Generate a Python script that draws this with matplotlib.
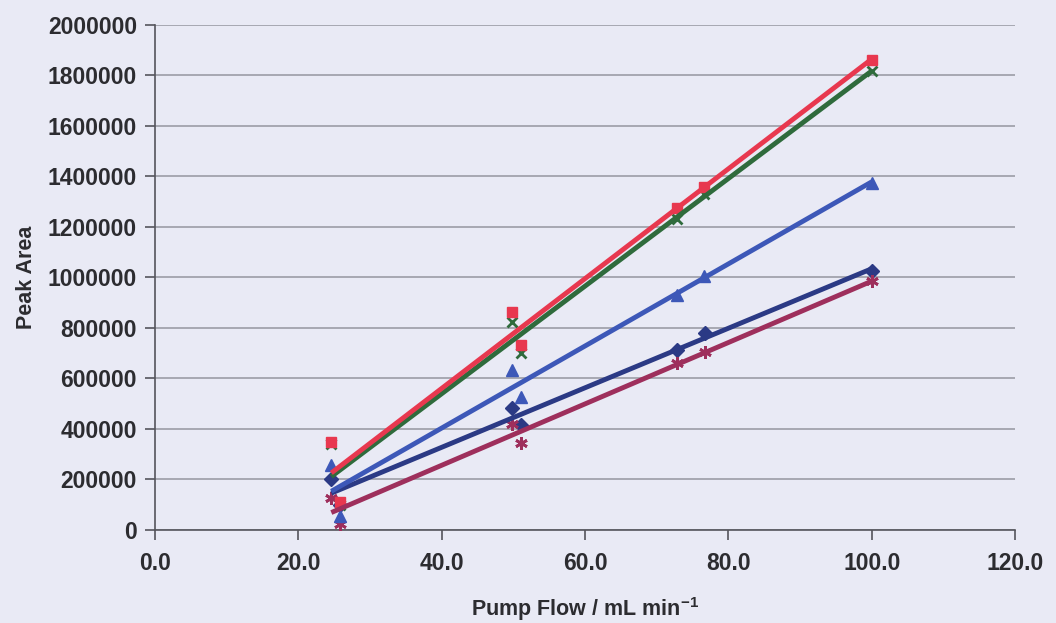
import numpy as np
import matplotlib
matplotlib.use("Agg")
import matplotlib.pyplot as plt

# ---- data ----
diamond_x = [24.6, 25.8, 49.8, 51.0, 72.9, 76.8, 100.0]
diamond_y = [201000, 100000, 482000, 416000, 713000, 779000, 1026000]

square_x = [24.6, 25.8, 49.8, 51.0, 72.9, 76.6, 100.0]
square_y = [350000, 110000, 862000, 733000, 1274000, 1360000, 1860000]

triangle_x = [24.6, 25.8, 49.8, 51.0, 72.9, 76.6, 100.0]
triangle_y = [258000, 55000, 634000, 528000, 930000, 1006000, 1376000]

cross_x = [24.6, 25.8, 49.8, 51.0, 72.9, 76.6, 100.0]
cross_y = [342000, 100000, 825000, 702000, 1232000, 1330000, 1818000]

star_x = [24.6, 25.8, 49.8, 51.0, 72.9, 76.8, 100.0]
star_y = [127000, 25000, 418000, 343000, 662000, 703000, 985000]

x_ticks = [0, 20, 40, 60, 80, 100, 120]
y_ticks = [0, 200000, 400000, 600000, 800000, 1000000, 1200000,
           1400000, 1600000, 1800000, 2000000]

series = [
    (diamond_x, diamond_y, "D", "#2B3A85", 7),
    (star_x, star_y, (6, 2, 0), "#9E2F5C", 9),
    (triangle_x, triangle_y, "^", "#3D58B8", 8),
    (cross_x, cross_y, "x", "#2F6B3C", 7),
    (square_x, square_y, "s", "#E8384F", 7),
]

plt.rcParams["mathtext.fontset"] = "custom"
plt.rcParams["mathtext.rm"] = "Liberation Sans:bold"
plt.rcParams["mathtext.bf"] = "Liberation Sans:bold"

txt = "#2C2C30"
bg = "#E9EAF5"
fig = plt.figure(figsize=(10.56, 6.23), dpi=100, facecolor=bg)
ax = fig.add_axes([0.1468, 0.1493, 0.8144, 0.8106], facecolor=bg)

for xs, ys, mk, col, ms in series:
    ax.plot(xs, ys, linestyle="none", marker=mk, color=col, markersize=ms,
            markeredgewidth=2 if mk in ("x",) or isinstance(mk, tuple) else 1,
            zorder=3)

# linear trendlines (least squares, as in the spreadsheet chart)
for xs, ys, mk, col, ms in series:
    k, b = np.polyfit(xs, ys, 1)
    xe = np.array([min(xs), max(xs)])
    ax.plot(xe, k * xe + b, color=col, linewidth=3.5, solid_capstyle="butt",
            zorder=4)

ax.set_xlim(0, 120)
ax.set_ylim(0, 2000000)
ax.set_xticks(x_ticks)
ax.set_xticklabels([f"{v:.1f}" for v in x_ticks])
ax.set_yticks(y_ticks)
ax.set_yticklabels([str(v) for v in y_ticks])

ax.grid(axis="y", color="#9C9CA6", linewidth=1.2)
ax.set_axisbelow(True)
for s in ("top", "right"):
    ax.spines[s].set_visible(False)
for s in ("left", "bottom"):
    ax.spines[s].set_color("#55555C")
    ax.spines[s].set_linewidth(1.2)

ax.tick_params(axis="both", direction="out", length=7, width=1.2,
               color="#55555C", labelcolor=txt, labelsize=16.5)
ax.tick_params(axis="x", pad=9)
ax.tick_params(axis="y", pad=6)
for lab in ax.get_xticklabels() + ax.get_yticklabels():
    lab.set_fontweight("bold")
    lab.set_family("Liberation Sans")

ax.set_xlabel("Pump Flow / mL min$^{-1}$", fontsize=15.5,
              fontweight="bold", family="Liberation Sans", color=txt,
              labelpad=14)
ax.set_ylabel("Peak Area", fontsize=15.5, fontweight="bold",
              family="Liberation Sans", color=txt, labelpad=8)

fig.savefig("out.png", dpi=100, facecolor=bg)
